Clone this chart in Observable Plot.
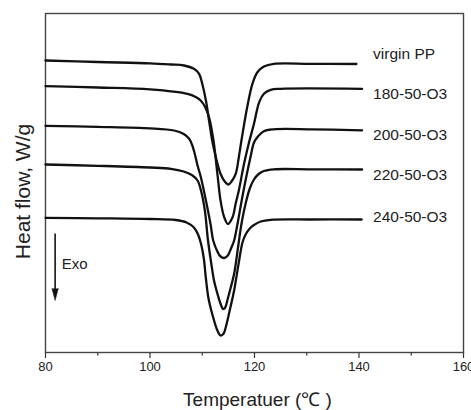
<!DOCTYPE html>
<html><head><meta charset="utf-8">
<script src="https://cdn.jsdelivr.net/npm/d3@7"></script>
<script src="https://cdn.jsdelivr.net/npm/@observablehq/plot@0.6"></script>
<style>
body{margin:0;background:#fff}
svg{font-family:"Liberation Sans",Arial,sans-serif}
</style>
</head><body><div id="chart"></div>
<script>
// Temperature (°C), heat flow (arbitrary offset W/g units)
const seriesNames = ["virgin PP", "180-50-O3", "200-50-O3", "220-50-O3", "240-50-O3"];

const virginPP = [[80,2.92],[90,2.905],[100,2.892],[104,2.88],[106.5,2.87],[108.4,2.837],[109.4,2.787],[110.0,2.687],[110.7,2.52],[111.3,2.32],[111.9,2.12],[112.6,1.953],[113.5,1.787],[114.3,1.71],[115.0,1.68],[115.6,1.71],[116.4,1.787],[117.0,1.953],[117.5,2.12],[118.6,2.453],[119.6,2.687],[120.55,2.803],[121.8,2.86],[123.7,2.887],[130.7,2.887],[139.5,2.885]];

const s180 = [[80,2.663],[90,2.65],[100,2.632],[107.2,2.587],[108.75,2.555],[109.7,2.52],[110.5,2.46],[111.3,2.353],[112.15,2.12],[112.9,1.787],[113.5,1.52],[114.2,1.353],[114.9,1.285],[115.8,1.353],[116.4,1.49],[117.0,1.62],[118.0,1.887],[118.9,2.09],[119.9,2.287],[120.9,2.503],[121.8,2.587],[123.1,2.627],[125.0,2.637],[140.6,2.637]];

const s200 = [[80,2.267],[90,2.257],[100,2.242],[104.6,2.22],[106.45,2.185],[107.5,2.137],[108.1,2.07],[108.6,1.98],[109.1,1.87],[109.7,1.76],[110.7,1.52],[111.6,1.28],[112.1,1.12],[112.9,1.01],[113.5,0.96],[114.2,0.945],[114.9,0.97],[115.5,1.04],[116.1,1.12],[116.8,1.30],[117.55,1.52],[118.4,1.75],[119.3,1.97],[119.9,2.10],[120.55,2.153],[121.8,2.213],[123.7,2.232],[130.7,2.232],[140.6,2.222]];

const s220 = [[80,1.88],[90,1.867],[100,1.85],[104.0,1.837],[106.45,1.81],[108.0,1.775],[109.1,1.72],[109.8,1.61],[110.5,1.42],[111.1,1.12],[111.7,0.90],[112.25,0.72],[113.0,0.57],[113.5,0.487],[114.0,0.435],[114.4,0.45],[114.8,0.52],[115.4,0.64],[116.1,0.787],[116.9,1.07],[117.55,1.30],[118.3,1.49],[119.1,1.64],[119.9,1.73],[120.8,1.785],[121.8,1.815],[123.7,1.832],[130.7,1.832],[140.6,1.83]];

const s240 = [[80,1.347],[90,1.342],[100,1.335],[104.9,1.325],[107.0,1.30],[108.4,1.25],[109.2,1.18],[109.8,1.08],[110.3,0.94],[110.7,0.74],[111.2,0.54],[111.9,0.387],[112.9,0.22],[113.5,0.17],[114.1,0.19],[114.5,0.253],[115.25,0.42],[116.1,0.62],[116.9,0.87],[117.7,1.10],[118.3,1.18],[119.1,1.24],[119.9,1.275],[121.2,1.31],[123.1,1.327],[130.7,1.33],[140.5,1.33]];

const seriesValues = [virginPP, s180, s200, s220, s240];

// series label positions (temperature, heat flow)
const labelX = 142.7;
const labelY = [2.98, 2.587, 2.17, 1.77, 1.353];

// x ticks
const xTicks = [80, 100, 120, 140, 160];
const xMinorTicks = [90, 110, 130, 150];

// Exo annotation
const exoText = ["Exo"];
const exoTextPos = [83.1, 0.88];
const exoArrow = {x: 81.84, yFrom: 1.19, yTo: 0.52};

const rows = seriesNames.flatMap((name, i) => seriesValues[i].map(([T, q]) => ({series: name, T, q})));
const labels = seriesNames.map((name, i) => ({name, x: labelX, y: labelY[i]}));

const chart = Plot.plot({
  width: 471,
  height: 410,
  marginLeft: 45,
  marginRight: 8,
  marginTop: 13,
  marginBottom: 58,
  x: {domain: [80, 160]},
  y: {domain: [0, 3.39], axis: null},
  style: {fontFamily: "Liberation Sans, Arial, sans-serif", background: "#fff", color: "#222"},
  marks: [
    Plot.axisX({ticks: xMinorTicks, tickSize: 3.5, tickFormat: () => "", stroke: "#333", strokeWidth: 1.2, label: null}),
    Plot.axisX({ticks: xTicks, tickSize: 6, tickPadding: 3, fontSize: 13, stroke: "#333", strokeWidth: 1.2, label: null}),
    Plot.frame({stroke: "#444", strokeWidth: 1.4}),
    Plot.line(rows, {x: "T", y: "q", z: "series", curve: "catmull-rom", stroke: "#111", strokeWidth: 2.3}),
    Plot.text(labels, {x: "x", y: "y", text: "name", textAnchor: "start", fontSize: 15.5, fill: "#222"}),
    Plot.link([exoArrow], {x1: "x", x2: "x", y1: "yFrom", y2: d => d.yTo + 0.08, stroke: "#111", strokeWidth: 1.6}),
    Plot.vector([exoArrow], {x: "x", y: "yTo", shape: "spike", length: 12, r: 3.2, rotate: 180, anchor: "end", fill: "#111", stroke: "#111", strokeWidth: 0.5}),
    Plot.text(exoText, {x: exoTextPos[0], y: exoTextPos[1], text: d => d, textAnchor: "start", fontSize: 15, fill: "#222"}),
    Plot.text(["Heat flow, W/g"], {frameAnchor: "left", rotate: -90, textAnchor: "middle", lineAnchor: "middle", dx: -22, dy: 8.5, fontSize: 21, fill: "#222"}),
    Plot.text(["Temperatuer (℃ )"], {frameAnchor: "bottom", textAnchor: "middle", lineAnchor: "middle", dx: 3, dy: 47, fontSize: 19, fill: "#222"})
  ]
});
document.getElementById("chart").append(chart);
</script>
</body></html>
